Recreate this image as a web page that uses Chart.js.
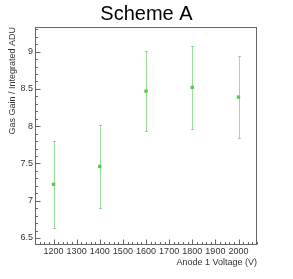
<!DOCTYPE html>
<html>
<head>
<meta charset="utf-8">
<script src="https://cdn.jsdelivr.net/npm/chart.js@4.4.1/dist/chart.umd.min.js"></script>
<style>
  html, body { margin: 0; padding: 0; background: #fff; }
</style>
</head>
<body>
<canvas id="gainCanvas" width="293" height="279"></canvas>
<script>
// Scheme A - gas gain vs anode 1 voltage
const voltages = [1200, 1400, 1600, 1800, 2000];
const gain = [7.22, 7.46, 8.47, 8.52, 8.39];
const gainErr = [0.58, 0.56, 0.54, 0.56, 0.55];

const FONT = "'Liberation Sans', Arial, sans-serif";
const AXIS_COLOR = '#666';

// ROOT style: error bars + frame with ticks drawn inside
const rootStyle = {
    id: 'rootStyle',
    beforeDatasetsDraw(chart) {
        const ctx = chart.ctx;
        const xs = chart.scales.x, ys = chart.scales.y;
        ctx.save();
        ctx.strokeStyle = 'rgba(80,205,80,0.6)';
        ctx.lineWidth = 1;
        for (let i = 0; i < voltages.length; i++) {
            const px = Math.round(xs.getPixelForValue(voltages[i])) + 0.5;
            const lo = Math.round(ys.getPixelForValue(gain[i] - gainErr[i])) + 0.5;
            const hi = Math.round(ys.getPixelForValue(gain[i] + gainErr[i])) + 0.5;
            ctx.beginPath();
            ctx.moveTo(px, lo);
            ctx.lineTo(px, hi);
            ctx.moveTo(px - 1.5, lo);
            ctx.lineTo(px + 1.5, lo);
            ctx.moveTo(px - 1.5, hi);
            ctx.lineTo(px + 1.5, hi);
            ctx.stroke();
        }
        ctx.restore();
    },
    afterDatasetsDraw(chart) {
        const ctx = chart.ctx;
        const a = chart.chartArea;
        const xs = chart.scales.x, ys = chart.scales.y;
        const l = Math.round(a.left) + 0.5, r = Math.round(a.right) - 0.5;
        const t = Math.round(a.top) + 0.5, b = Math.round(a.bottom) - 0.5;
        ctx.save();
        ctx.strokeStyle = AXIS_COLOR;
        ctx.lineWidth = 1;
        ctx.strokeRect(l, t, r - l, b - t);
        ctx.beginPath();
        // y ticks, every 0.1, major every 0.5
        for (let v = Math.ceil(ys.min * 10); v <= ys.max * 10; v++) {
            const py = Math.round(ys.getPixelForValue(v / 10)) + 0.5;
            const len = v % 5 === 0 ? 5 : 2.5;
            ctx.moveTo(l, py);
            ctx.lineTo(l + len, py);
        }
        // x ticks, every 20, major every 100
        for (let v = Math.ceil(xs.min / 20) * 20; v <= xs.max; v += 20) {
            const px = Math.round(xs.getPixelForValue(v)) + 0.5;
            const len = v % 100 === 0 ? 5 : 2.5;
            ctx.moveTo(px, b);
            ctx.lineTo(px, b - len);
        }
        ctx.stroke();
        ctx.restore();
    }
};

const gainChart = new Chart(document.getElementById('gainCanvas'), {
    type: 'scatter',
    data: {
        datasets: [{
            label: 'Scheme A',
            data: voltages.map((v, i) => ({ x: v, y: gain[i] })),
            pointStyle: 'rect',
            pointRadius: 2.4,
            pointBorderWidth: 0,
            backgroundColor: '#50cd50',
            borderColor: '#50cd50'
        }]
    },
    plugins: [rootStyle],
    options: {
        responsive: false,
        animation: false,
        devicePixelRatio: 1,
        layout: { padding: 0 },
        plugins: {
            legend: { display: false },
            tooltip: { enabled: false },
            title: {
                display: true,
                text: 'Scheme A',
                color: '#000',
                font: { family: FONT, size: 20, weight: 'normal' },
                padding: { top: 2, bottom: 1 }
            }
        },
        scales: {
            x: {
                type: 'linear',
                min: 1120,
                max: 2080,
                grid: { display: false, drawTicks: false },
                border: { display: false },
                ticks: {
                    stepSize: 100,
                    includeBounds: false,
                    padding: 1,
                    maxRotation: 0,
                    color: '#333',
                    font: { family: FONT, size: 9 },
                    callback: (v) => String(v)
                },
                title: {
                    display: true,
                    text: 'Anode 1 Voltage (V)',
                    align: 'end',
                    color: '#333',
                    font: { family: FONT, size: 9 },
                    padding: { top: 0, bottom: 11 }
                },
                afterFit(s) { s.height = 34; }
            },
            y: {
                min: 6.406,
                max: 9.33,
                grid: { display: false, drawTicks: false },
                border: { display: false },
                ticks: {
                    stepSize: 0.5,
                    includeBounds: false,
                    padding: 2,
                    color: '#333',
                    font: { family: FONT, size: 9 },
                    callback: (v) => String(Math.round(v * 10) / 10)
                },
                title: {
                    display: true,
                    text: 'Gas Gain / Integrated ADU',
                    align: 'end',
                    color: '#333',
                    font: { family: FONT, size: 9 },
                    padding: { top: 7, bottom: 0 }
                },
                afterFit(s) { s.width = 35; }
            },
            yRight: {
                position: 'right',
                display: true,
                grid: { display: false, drawTicks: false },
                border: { display: false },
                ticks: { display: false },
                afterFit(s) { s.width = 36; }
            }
        }
    }
});
</script>
</body>
</html>
